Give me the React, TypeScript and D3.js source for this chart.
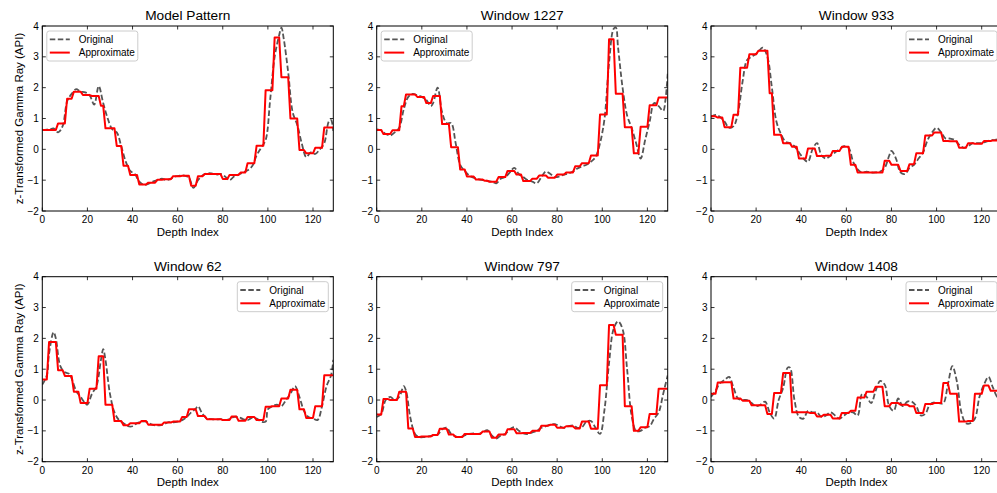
import React from "react";
import * as d3 from "d3";

const panelTitles = ["Model Pattern", "Window 1227", "Window 933", "Window 62", "Window 797", "Window 1408"];
const seriesNames = ["Original", "Approximate"];
const xTicks = [0, 20, 40, 60, 80, 100, 120];
const yTicks = [-2, -1, 0, 1, 2, 3, 4];
const xDomain = [0, 129];
const yDomain = [-2, 4];
const yLabel = "z-Transformed Gamma Ray (API)";
const xLabel = "Depth Index";

// [depth index, value]
const modelOriginal: [number, number][] = [
  [0, 0.62], [2, 0.64], [4, 0.66], [5, 0.68], [7, 0.55], [9, 0.75], [11, 1.55], [13, 1.8], [15, 1.95], [17, 1.87],
  [19, 1.85], [21, 1.75], [23, 1.45], [25, 2.05], [27, 1.5], [29, 1.0], [31, 0.65], [33, 0.55], [35, 0.1], [37, -0.4],
  [39, -0.7], [41, -0.8], [43, -1.05], [45, -1.15], [47, -1.12], [49, -1.05], [51, -1.0], [53, -0.95], [55, -1.0],
  [57, -0.95], [59, -0.88], [61, -0.85], [63, -0.85], [65, -0.92], [67, -1.25], [69, -1.0], [71, -0.85], [73, -0.78],
  [75, -0.78], [77, -0.82], [79, -0.8], [81, -0.88], [83, -1.0], [85, -0.88], [87, -0.82], [89, -0.75], [91, -0.68],
  [93, -0.55], [95, -0.2], [97, 0.05], [99, 0.3], [101, 1.6], [103, 3.0], [105, 3.7], [106, 3.95], [107, 3.6],
  [109, 2.5], [111, 1.2], [113, 0.8], [115, 0.2], [117, -0.25], [119, -0.1], [121, -0.15], [123, 0.0], [125, 0.2],
  [127, 0.9], [128, 0.95], [129, 0.6],
];
// [segment start index, level]
const modelSteps: [number, number][] = [
  [0, 0.63], [7, 0.84], [11, 1.64], [14, 1.87], [18, 1.76], [22, 1.73], [26, 1.41], [28, 0.68], [33, 0.11],
  [36, -0.53], [39, -0.83], [43, -1.14], [47, -1.08], [51, -0.99], [54, -0.97], [58, -0.87], [62, -0.86],
  [66, -1.18], [69, -0.87], [72, -0.8], [76, -0.8], [80, -0.96], [83, -0.83], [88, -0.75], [91, -0.45],
  [95, 0.12], [99, 1.92], [103, 3.63], [106, 2.34], [110, 1.0], [114, -0.02], [117, -0.13], [121, 0.05], [125, 0.71],
];

const w1227Original: [number, number][] = [
  [0, 0.65], [2, 0.62], [4, 0.5], [6, 0.45], [8, 0.55], [10, 0.7], [12, 1.3], [14, 1.7], [16, 1.8], [18, 1.75],
  [20, 1.7], [22, 1.6], [24, 1.4], [25, 1.5], [27, 2.0], [29, 1.2], [31, 0.85], [33, 0.85], [35, 0.2], [37, -0.5],
  [39, -0.7], [41, -0.85], [43, -0.92], [45, -0.97], [47, -1.0], [49, -1.02], [51, -1.05], [53, -1.1], [55, -0.95],
  [57, -0.9], [59, -0.75], [61, -0.6], [63, -0.8], [65, -0.9], [67, -1.0], [69, -1.05], [71, -1.1], [73, -0.9],
  [75, -0.72], [77, -0.8], [79, -0.9], [81, -0.88], [83, -0.82], [85, -0.78], [87, -0.72], [89, -0.62], [91, -0.55],
  [93, -0.5], [95, -0.4], [97, -0.25], [99, 0.2], [101, 1.0], [103, 2.8], [105, 3.9], [106, 3.95], [107, 3.3],
  [109, 2.0], [111, 1.1], [113, 0.7], [115, 0.2], [117, -0.3], [119, 0.3], [121, 0.9], [123, 1.5], [125, 1.4],
  [127, 1.25], [128, 1.6], [129, 2.45],
];
const w1227Steps: [number, number][] = [
  [0, 0.63], [3, 0.5], [7, 0.62], [11, 1.4], [13, 1.78], [18, 1.7], [22, 1.5], [25, 1.73], [29, 0.82], [33, 0.07],
  [37, -0.65], [40, -0.88], [44, -0.98], [48, -1.02], [50, -1.05], [54, -0.9], [58, -0.7], [62, -0.82], [65, -1.03],
  [69, -0.95], [72, -0.85], [76, -0.92], [80, -0.82], [84, -0.75], [88, -0.55], [91, -0.45], [95, -0.2], [99, 1.13],
  [103, 3.57], [106, 1.8], [110, 0.72], [114, -0.13], [117, 0.73], [121, 1.43], [125, 1.68],
];

const w933Original: [number, number][] = [
  [0, 1.05], [2, 1.12], [4, 1.05], [6, 0.9], [8, 0.7], [10, 0.75], [12, 1.2], [14, 2.2], [16, 2.9], [18, 3.0],
  [20, 3.1], [22, 3.25], [23, 3.3], [25, 3.0], [27, 2.0], [29, 0.9], [31, 0.5], [33, 0.25], [35, 0.2], [37, 0.1],
  [39, -0.1], [41, -0.3], [43, -0.4], [45, 0.0], [47, 0.2], [49, -0.2], [51, -0.3], [53, -0.2], [55, -0.1],
  [57, 0.0], [59, 0.1], [61, 0.05], [63, -0.4], [65, -0.65], [67, -0.75], [69, -0.72], [71, -0.75], [73, -0.75],
  [75, -0.72], [77, -0.6], [79, -0.2], [80, -0.05], [82, -0.3], [84, -0.75], [86, -0.8], [88, -0.6], [90, -0.5],
  [92, -0.3], [94, -0.1], [96, 0.3], [98, 0.55], [100, 0.7], [102, 0.55], [104, 0.35], [106, 0.35], [108, 0.3],
  [110, 0.15], [112, 0.05], [114, 0.1], [116, 0.2], [118, 0.2], [120, 0.2], [122, 0.25], [124, 0.3], [126, 0.3],
  [127, 0.35], [129, 0.3],
];
const w933Steps: [number, number][] = [
  [0, 1.07], [3, 1.03], [6, 0.72], [10, 1.12], [13, 2.65], [17, 3.08], [21, 3.2], [26, 1.82], [28, 0.47], [32, 0.2],
  [36, 0.08], [39, -0.3], [43, 0.03], [47, -0.22], [51, -0.21], [54, -0.05], [58, 0.08], [62, -0.5], [65, -0.75],
  [69, -0.75], [73, -0.75], [77, -0.37], [80, -0.5], [84, -0.7], [88, -0.48], [91, -0.13], [95, 0.45], [99, 0.55],
  [103, 0.27], [106, 0.26], [110, 0.05], [114, 0.2], [117, 0.18], [121, 0.27], [125, 0.29],
];

const w62Original: [number, number][] = [
  [0, 0.5], [2, 0.8], [3, 1.5], [5, 2.2], [6, 2.0], [8, 1.1], [10, 0.9], [12, 0.85], [13, 0.7], [15, 0.3],
  [17, 0.1], [19, -0.1], [20, -0.15], [22, 0.2], [24, 0.45], [26, 1.3], [27, 1.65], [28, 1.3], [30, 0.2],
  [32, -0.4], [34, -0.65], [36, -0.75], [38, -0.85], [40, -0.85], [42, -0.75], [44, -0.7], [46, -0.7], [48, -0.78],
  [50, -0.82], [52, -0.82], [54, -0.78], [56, -0.72], [58, -0.72], [60, -0.7], [62, -0.65], [64, -0.55], [66, -0.4],
  [68, -0.28], [69, -0.2], [71, -0.45], [73, -0.6], [75, -0.62], [77, -0.63], [79, -0.62], [81, -0.65], [83, -0.62],
  [85, -0.55], [87, -0.55], [89, -0.62], [91, -0.65], [93, -0.58], [95, -0.6], [97, -0.7], [99, -0.7], [100, -0.3],
  [102, -0.2], [104, -0.15], [106, -0.2], [108, 0.0], [110, 0.2], [112, 0.45], [114, 0.1], [116, -0.35],
  [118, -0.55], [120, -0.6], [122, -0.65], [124, -0.2], [126, 0.45], [128, 0.8], [129, 1.3],
];
const w62Steps: [number, number][] = [
  [0, 0.67], [3, 1.88], [7, 0.97], [10, 0.78], [14, 0.27], [17, -0.1], [21, 0.37], [25, 1.42], [28, -0.15],
  [32, -0.68], [36, -0.82], [39, -0.75], [44, -0.68], [47, -0.8], [50, -0.8], [54, -0.73], [58, -0.7], [62, -0.55],
  [65, -0.3], [69, -0.52], [73, -0.62], [76, -0.62], [80, -0.65], [84, -0.53], [87, -0.67], [91, -0.55],
  [95, -0.65], [99, -0.22], [102, -0.2], [106, 0.05], [110, 0.33], [114, -0.3], [117, -0.58], [121, -0.2], [125, 0.8],
];

const w797Original: [number, number][] = [
  [0, -0.55], [2, -0.45], [4, 0.0], [6, 0.1], [8, 0.0], [10, 0.1], [12, 0.45], [13, 0.3], [15, -0.6], [17, -1.1],
  [19, -1.2], [21, -1.2], [23, -1.18], [25, -1.15], [27, -1.12], [29, -0.95], [31, -0.9], [33, -1.1], [35, -1.18],
  [37, -1.2], [39, -1.15], [41, -1.1], [43, -1.08], [45, -1.1], [47, -1.05], [49, -0.98], [51, -1.15], [53, -1.25],
  [55, -1.15], [57, -1.1], [59, -0.95], [61, -0.88], [63, -1.0], [65, -1.08], [67, -1.1], [69, -1.05], [71, -1.0],
  [73, -0.9], [75, -0.85], [77, -0.8], [79, -0.78], [81, -0.85], [83, -0.9], [85, -0.85], [87, -0.82], [89, -0.9],
  [91, -0.88], [93, -0.7], [95, -0.68], [97, -0.9], [99, -1.1], [101, -0.3], [103, 1.2], [105, 2.3], [107, 2.55],
  [109, 2.3], [111, 1.0], [113, -0.5], [115, -1.0], [117, -1.0], [119, -0.9], [121, -0.85], [123, -0.6],
  [125, -0.4], [127, 0.2], [129, 0.8],
];
const w797Steps: [number, number][] = [
  [0, -0.47], [3, 0.03], [6, 0.0], [10, 0.27], [14, -0.92], [17, -1.2], [20, -1.18], [25, -1.13], [28, -0.93],
  [32, -1.12], [35, -1.2], [39, -1.1], [43, -1.1], [47, -1.02], [51, -1.22], [54, -1.12], [58, -0.95], [62, -1.08],
  [65, -1.07], [69, -1.0], [73, -0.83], [77, -0.8], [80, -0.9], [84, -0.85], [88, -0.92], [91, -0.7], [95, -0.93],
  [99, 0.48], [103, 2.43], [106, 2.12], [110, -0.2], [114, -1.0], [117, -0.88], [121, -0.45], [125, 0.37],
];

const w1408Original: [number, number][] = [
  [0, 0.1], [2, 0.3], [4, 0.55], [6, 0.65], [8, 0.75], [10, 0.4], [12, 0.05], [14, 0.0], [16, 0.0], [18, -0.1],
  [20, -0.2], [22, -0.15], [24, -0.05], [26, -0.4], [28, -0.6], [30, 0.0], [32, 0.4], [34, 1.05], [35, 1.05],
  [37, 0.0], [39, -0.55], [41, -0.6], [43, -0.35], [45, -0.4], [47, -0.4], [49, -0.55], [51, -0.5], [53, -0.4],
  [55, -0.5], [57, -0.6], [59, -0.5], [61, -0.4], [63, -0.4], [65, -0.5], [67, 0.2], [69, 0.1], [71, -0.1],
  [73, 0.3], [75, 0.62], [77, 0.5], [79, -0.2], [81, -0.35], [83, 0.05], [85, -0.2], [87, -0.05], [89, -0.05],
  [91, -0.2], [93, -0.5], [95, -0.45], [97, -0.15], [99, -0.08], [101, -0.1], [103, -0.1], [105, 0.5], [107, 1.1],
  [109, 0.6], [111, -0.4], [113, -0.75], [115, -0.75], [117, -0.6], [119, 0.1], [121, 0.5], [123, 0.75],
  [125, 0.4], [127, 0.1], [128, 0.3],
];
const w1408Steps: [number, number][] = [
  [0, 0.2], [3, 0.57], [6, 0.58], [10, 0.05], [14, -0.02], [18, -0.17], [22, -0.17], [25, -0.45], [28, 0.23],
  [32, 0.88], [36, -0.4], [40, -0.4], [44, -0.42], [47, -0.53], [50, -0.48], [54, -0.6], [58, -0.42], [62, -0.35],
  [65, 0.08], [69, 0.27], [73, 0.43], [77, -0.2], [80, -0.1], [84, -0.15], [88, -0.2], [91, -0.42], [95, -0.13],
  [99, -0.1], [103, 0.55], [106, 0.2], [110, -0.7], [114, -0.68], [117, 0.2], [121, 0.47], [124, 0.3],
];

const originals = [modelOriginal, w1227Original, w933Original, w62Original, w797Original, w1408Original];
const steps = [modelSteps, w1227Steps, w933Steps, w62Steps, w797Steps, w1408Steps];
const legendLeft = [true, true, false, false, false, false];

const FONT = "'Liberation Sans', Arial, Helvetica, sans-serif";
const W = 997;
const H = 493;
const colLefts = [42.3, 376.7, 711];
const rowTops = [26, 276.7];
const AW = 291;
const AH = 185;
const ORIG_COLOR = "#555555";
const APPROX_COLOR = "#ff0000";

const fmt = (v: number) => (v < 0 ? "\u2212" + Math.abs(v) : String(v));

function Panel({ idx }: { idx: number }) {
  const col = idx % 3;
  const row = Math.floor(idx / 3);
  const left = colLefts[col];
  const top = rowTops[row];
  const x = d3.scaleLinear().domain(xDomain).range([left, left + AW]);
  const y = d3.scaleLinear().domain(yDomain).range([top + AH, top]);

  const origLine = d3
    .line<[number, number]>()
    .x((d) => x(d[0]))
    .y((d) => y(d[1]))
    .curve(d3.curveCatmullRom.alpha(0.5));
  const segs = steps[idx];
  const stepPts: [number, number][] = [];
  segs.forEach((s, i) => {
    const end = i < segs.length - 1 ? segs[i + 1][0] - 1 : xDomain[1];
    stepPts.push([s[0], s[1]]);
    stepPts.push([end, s[1]]);
  });
  const stepLine = d3
    .line<[number, number]>()
    .x((d) => x(d[0]))
    .y((d) => y(d[1]));

  const clipId = `clip-${idx}`;
  const tl = 3.5;
  const bottom = top + AH;
  const right = left + AW;

  const lgW = 91;
  const lgH = 30;
  const lgX = legendLeft[idx] ? left + 4.5 : right - 5 - lgW;
  const lgY = top + 5;

  return (
    <g>
      <defs>
        <clipPath id={clipId}>
          <rect x={left} y={top} width={AW} height={AH} />
        </clipPath>
      </defs>
      <rect x={left} y={top} width={AW} height={AH} fill="#ffffff" />
      <g clipPath={`url(#${clipId})`}>
        <path
          d={origLine(originals[idx]) || ""}
          fill="none"
          stroke={ORIG_COLOR}
          strokeWidth={1.8}
          strokeDasharray="5.5,2.5"
        />
        <path d={stepLine(stepPts) || ""} fill="none" stroke={APPROX_COLOR} strokeWidth={2} strokeLinejoin="round" />
      </g>
      {/* ticks */}
      {xTicks.map((t) => (
        <g key={`xt${t}`}>
          <line x1={x(t)} x2={x(t)} y1={bottom} y2={bottom - tl} stroke="#000" strokeWidth={0.8} />
          <line x1={x(t)} x2={x(t)} y1={top} y2={top + tl} stroke="#000" strokeWidth={0.8} />
          <text x={x(t)} y={bottom + 12} fontSize={10} textAnchor="middle" fontFamily={FONT} fill="#000">
            {fmt(t)}
          </text>
        </g>
      ))}
      {yTicks.map((t) => (
        <g key={`yt${t}`}>
          <line x1={left} x2={left + tl} y1={y(t)} y2={y(t)} stroke="#000" strokeWidth={0.8} />
          <line x1={right} x2={right - tl} y1={y(t)} y2={y(t)} stroke="#000" strokeWidth={0.8} />
          <text x={left - 3.5} y={y(t) + 3.6} fontSize={10} textAnchor="end" fontFamily={FONT} fill="#000">
            {fmt(t)}
          </text>
        </g>
      ))}
      <rect x={left} y={top} width={AW} height={AH} fill="none" stroke="#000" strokeWidth={1} />
      {/* legend */}
      <g>
        <rect
          x={lgX}
          y={lgY}
          width={lgW}
          height={lgH}
          rx={2.5}
          fill="#ffffff"
          fillOpacity={0.8}
          stroke="#cccccc"
          strokeWidth={1}
        />
        <line
          x1={lgX + 3}
          x2={lgX + 23}
          y1={lgY + 8.3}
          y2={lgY + 8.3}
          stroke={ORIG_COLOR}
          strokeWidth={1.8}
          strokeDasharray="5.5,2.5"
        />
        <text x={lgX + 32} y={lgY + 11.8} fontSize={10} fontFamily={FONT} fill="#000">
          {seriesNames[0]}
        </text>
        <line x1={lgX + 3} x2={lgX + 23} y1={lgY + 21.6} y2={lgY + 21.6} stroke={APPROX_COLOR} strokeWidth={2} />
        <text x={lgX + 32} y={lgY + 25.1} fontSize={10} fontFamily={FONT} fill="#000">
          {seriesNames[1]}
        </text>
      </g>
      <text x={left + AW / 2} y={top - 6} fontSize={13.7} textAnchor="middle" fontFamily={FONT} fill="#000">
        {panelTitles[idx]}
      </text>
      <text x={left + AW / 2} y={bottom + 24.5} fontSize={11.5} textAnchor="middle" fontFamily={FONT} fill="#000">
        {xLabel}
      </text>
      {col === 0 && (
        <text
          transform={`translate(23,${top + AH / 2}) rotate(-90)`}
          fontSize={11.5}
          textAnchor="middle"
          fontFamily={FONT}
          fill="#000"
        >
          {yLabel}
        </text>
      )}
    </g>
  );
}

export default function App() {
  React.useEffect(() => {
    document.body.style.margin = "0";
    document.body.style.overflow = "hidden";
  }, []);
  return (
    <svg
      width={W}
      height={H}
      viewBox={`0 0 ${W} ${H}`}
      style={{ position: "absolute", left: 0, top: 0, background: "#fff", display: "block" }}
    >
      <rect x={0} y={0} width={W} height={H} fill="#fff" />
      {panelTitles.map((_, i) => (
        <Panel key={i} idx={i} />
      ))}
    </svg>
  );
}
